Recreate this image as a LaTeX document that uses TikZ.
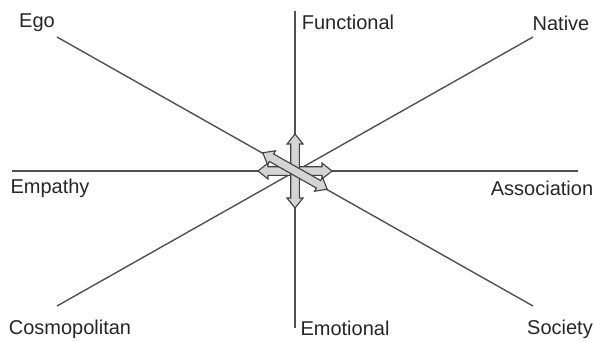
\documentclass[tikz,border=0pt]{standalone}
\usepackage{fontspec}
\setmainfont{Liberation Sans}
\definecolor{axis}{HTML}{505050}
\definecolor{afill}{HTML}{D4D4D4}
\definecolor{aline}{HTML}{404040}
\tikzset{
  axisline/.style={draw=axis, line width=1.4pt},
  lbl/.style={font=\fontsize{20}{22}\selectfont, text=black!85, inner sep=0pt},
  blockarrow/.style={draw=aline, fill=afill, line width=1.1pt, line join=miter},
}
\newcommand{\blockarr}[1]{%
  \begin{scope}[shift={(c)}, rotate=#1]
    \path[blockarrow] (-37,0) -- (-27,8) -- (-27,4.3) -- (27,4.3) -- (27,8) -- (37,0)
      -- (27,-8) -- (27,-4.3) -- (-27,-4.3) -- (-27,-8) -- cycle;
  \end{scope}}
\begin{document}
\begin{tikzpicture}[x=1pt,y=-1pt]
\useasboundingbox (0,0) rectangle (595,341);
\coordinate (c) at (295,171);
\coordinate (top) at (295,11);
\coordinate (bot) at (295,328);
\coordinate (lft) at (12,171);
\coordinate (rgt) at (578,171);
\coordinate (egoE) at (57,37);
\coordinate (socE) at (533,306);
\coordinate (natE) at (533,37);
\coordinate (cosE) at (57,306);
\draw[axisline] (top) -- (bot);
\draw[axisline] (lft) -- (rgt);
\draw[axisline] (egoE) -- (socE);
\draw[axisline] (natE) -- (cosE);
\node[lbl] (ego) at (37,23) {Ego};
\node[lbl] (nat) at (561,23) {Native};
\node[lbl] (fun) at (348,22) {Functional};
\node[lbl] (emp) at (50,188) {Empathy};
\node[lbl] (ass) at (542,188) {Association};
\node[lbl] (cos) at (70,329) {Cosmopolitan};
\node[lbl] (emo) at (345,328) {Emotional};
\node[lbl] (soc) at (560,329) {Society};
\blockarr{0}
\blockarr{90}
\blockarr{-29.5}
\end{tikzpicture}
\end{document}
